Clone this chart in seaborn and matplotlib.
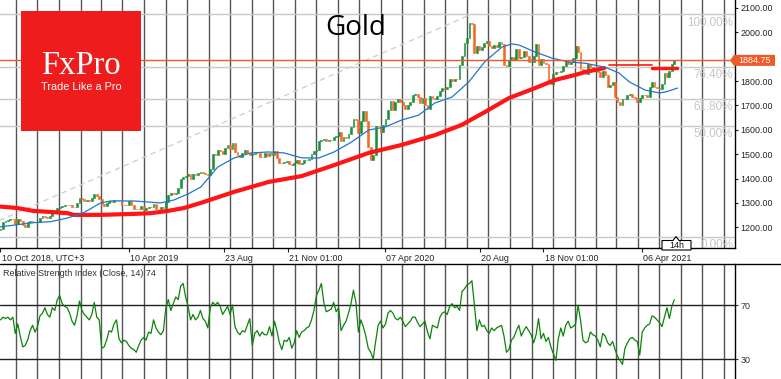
import numpy as np
import pandas as pd
import matplotlib
matplotlib.use("Agg")
import matplotlib.pyplot as plt
import matplotlib.transforms as mtrans
from matplotlib.patches import Rectangle, Polygon
from matplotlib.lines import Line2D
import seaborn as sns

sns.set_style("white")
plt.rcParams['font.family'] = ['Liberation Sans', 'DejaVu Sans']

# Gold, candles every half week (close values)
start = "2018-10-10"
first_open = 1190
close = [
    1194, 1220, 1225, 1228, 1232, 1233, 1215, 1232, 1226, 1210,
    1201, 1222, 1226, 1223, 1220, 1222, 1237, 1248, 1244, 1239,
    1245, 1257, 1267, 1281, 1284, 1287, 1292, 1290, 1292, 1282,
    1282, 1298, 1319, 1318, 1306, 1313, 1307, 1322, 1338, 1329,
    1318, 1294, 1286, 1298, 1309, 1302, 1312, 1314, 1310, 1292,
    1290, 1292, 1307, 1292, 1274, 1276, 1276, 1286, 1273, 1279,
    1284, 1285, 1297, 1276, 1274, 1284, 1279, 1305, 1332, 1340,
    1336, 1341, 1360, 1399, 1408, 1409, 1418, 1399, 1420, 1415,
    1424, 1426, 1423, 1419, 1413, 1440, 1502, 1497, 1516, 1512,
    1500, 1527, 1538, 1520, 1547, 1507, 1497, 1488, 1504, 1517,
    1504, 1498, 1499, 1505, 1505, 1490, 1488, 1504, 1492, 1505,
    1495, 1512, 1484, 1462, 1463, 1468, 1471, 1460, 1455, 1464,
    1475, 1461, 1464, 1476, 1476, 1479, 1499, 1511, 1518, 1552,
    1557, 1562, 1554, 1557, 1559, 1571, 1576, 1589, 1555, 1570,
    1566, 1584, 1611, 1643, 1641, 1586, 1637, 1675, 1635, 1528,
    1477, 1495, 1617, 1616, 1590, 1621, 1646, 1682, 1716, 1683,
    1713, 1726, 1713, 1701, 1685, 1703, 1715, 1743, 1748, 1733,
    1709, 1729, 1700, 1685, 1737, 1731, 1727, 1740, 1761, 1771,
    1769, 1774, 1809, 1800, 1810, 1808, 1866, 1902, 1956, 1975,
    2037, 2034, 1915, 1944, 1929, 1940, 1954, 1966, 1943, 1934,
    1947, 1941, 1959, 1950, 1866, 1861, 1886, 1900, 1887, 1930,
    1893, 1899, 1923, 1902, 1876, 1878, 1904, 1951, 1866, 1889,
    1873, 1870, 1806, 1788, 1830, 1839, 1838, 1840, 1863, 1881,
    1870, 1877, 1893, 1943, 1918, 1850, 1845, 1830, 1870, 1856,
    1843, 1848, 1835, 1815, 1842, 1824, 1775, 1784, 1797, 1734,
    1713, 1700, 1725, 1727, 1743, 1745, 1734, 1732, 1715, 1729,
    1742, 1744, 1736, 1777, 1794, 1777, 1773, 1769, 1786, 1831,
    1815, 1843, 1870, 1885,
]

rsi = [
    59, 61, 60, 61, 59, 61, 49, 56, 47, 39,
    40, 44, 51, 55, 50, 54, 62, 64, 68, 63,
    61, 68, 66, 74, 77, 71, 69, 68, 64, 58,
    55, 62, 73, 66, 63, 61, 59, 63, 72, 61,
    59, 38, 39, 44, 51, 50, 56, 59, 45, 42,
    44, 43, 40, 38, 37, 35, 40, 44, 46, 44,
    50, 49, 59, 53, 50, 48, 51, 68, 74, 66,
    71, 76, 74, 84, 86, 76, 69, 59, 63, 59,
    61, 66, 60, 58, 53, 68, 72, 70, 72, 69,
    63, 66, 69, 63, 70, 54, 50, 48, 51, 50,
    55, 60, 40, 49, 51, 47, 50, 48, 48, 54,
    47, 58, 51, 42, 37, 44, 43, 46, 38, 42,
    51, 46, 50, 51, 53, 54, 59, 66, 77, 81,
    86, 72, 65, 66, 67, 72, 65, 68, 51, 55,
    58, 64, 71, 81, 72, 50, 59, 54, 47, 38,
    35, 30, 43, 55, 58, 53, 56, 64, 66, 64,
    60, 59, 61, 58, 54, 56, 58, 61, 61, 57,
    54, 56, 58, 50, 45, 55, 54, 53, 61, 64,
    65, 63, 69, 71, 68, 69, 66, 80, 82, 85,
    86, 88, 70, 51, 59, 54, 55, 51, 49, 53,
    51, 53, 54, 55, 47, 35, 37, 44, 46, 51,
    55, 47, 51, 54, 51, 48, 42, 48, 60, 45,
    49, 43, 46, 39, 34, 29, 45, 53, 47, 55,
    58, 53, 54, 56, 70, 59, 44, 42, 43, 50,
    48, 47, 44, 39, 49, 47, 42, 40, 43, 37,
    32, 29, 26, 38, 42, 45, 46, 44, 43, 33,
    50, 53, 55, 56, 62, 61, 59, 57, 54, 61,
    68, 60, 69, 74,
]

# moving averages
blue_dates = ["2018-10-10", "2018-11-26", "2018-12-20", "2019-01-13", "2019-02-05",
              "2019-03-01", "2019-03-15", "2019-04-17", "2019-05-25", "2019-06-13",
              "2019-07-03", "2019-07-21", "2019-08-14", "2019-09-06", "2019-09-30",
              "2019-10-25", "2019-11-16", "2019-12-11", "2020-01-04", "2020-01-26",
              "2020-02-20", "2020-03-15", "2020-04-07", "2020-05-01", "2020-05-25",
              "2020-06-17", "2020-07-11", "2020-08-04", "2020-08-27", "2020-09-20",
              "2020-10-04", "2020-10-14", "2020-11-06", "2020-11-30", "2020-12-24",
              "2021-01-16", "2021-02-13", "2021-03-05", "2021-03-20", "2021-04-11",
              "2021-05-01", "2021-05-10", "2021-05-27"]
blue_vals = [1202, 1219, 1223, 1238, 1260, 1300, 1308, 1308, 1300, 1312,
             1337, 1365, 1447, 1484, 1505, 1509, 1505, 1485, 1484, 1509,
             1550, 1599, 1611, 1640, 1660, 1710, 1734, 1796, 1880, 1939,
             1952, 1948, 1919, 1894, 1878, 1873, 1857, 1833, 1796, 1763,
             1751, 1755, 1771]

red_dates = ["2018-10-10", "2018-11-03", "2018-11-26", "2018-12-20", "2019-01-13",
             "2019-01-22", "2019-03-01", "2019-04-17", "2019-05-11", "2019-06-04",
             "2019-06-27", "2019-07-21", "2019-09-06", "2019-10-25", "2019-12-11",
             "2020-01-26", "2020-03-15", "2020-05-01", "2020-06-17", "2020-07-25",
             "2020-08-27", "2020-09-30", "2020-11-06", "2020-12-04", "2021-01-02",
             "2021-01-16", "2021-02-12"]
red_vals = [1285, 1279, 1267, 1263, 1258, 1251, 1251, 1255, 1258, 1267,
            1279, 1300, 1345, 1386, 1410, 1455, 1505, 1538, 1578, 1620,
            1673, 1730, 1771, 1804, 1825, 1837, 1853]
red_seg_thin = ["2021-02-19", "2021-04-21", 1866]
red_seg_thick = ["2021-04-21", "2021-05-27", 1853]

# fibonacci retracement
fib_low = ["2018-08-16", 1161]
fib_high = ["2020-08-07", 2073]
fib_levels = [0.0, 0.5, 0.618, 0.764, 1.0]
fib_labels = ["0.00%", "50.00%", "61.80%", "76.40%", "100.00%"]

last_price = 1884.75
price_ticks = [1200, 1300, 1400, 1500, 1600, 1700, 1800, 2000, 2100]
date_ticks = ["2018-10-10", "2019-04-10", "2019-08-23", "2019-11-21",
              "2020-04-07", "2020-08-20", "2020-11-18", "2021-04-06"]
date_labels = ["10 Oct 2018, UTC+3", "10 Apr 2019", "23 Aug", "21 Nov 01:00",
               "07 Apr 2020", "20 Aug", "18 Nov 01:00", "06 Apr 2021"]

UP = "#17903a"
DOWN = "#f26a22"
W, H = 781, 379


def fx(px):
    return px / W


def fy(py):
    return 1 - py / H


fig = plt.figure(figsize=(W / 100, H / 100), dpi=100)
fig.patch.set_facecolor("white")
ax = fig.add_axes([0, fy(248), 735 / W, 248 / H])
ax2 = fig.add_axes([0, 0, 735 / W, (H - 264) / H])

x0 = pd.Timestamp("2018-10-10") - pd.Timedelta(days=0.7)
x1 = x0 + pd.Timedelta(days=735 / 0.7052)
months = pd.date_range("2018-11-01", "2021-08-01", freq="MS")

# price panel
dates = pd.date_range(start, periods=len(close), freq="84h")
opens = [first_open] + close[:-1]
cl = np.array(close, dtype=float)
op = np.array(opens, dtype=float)
colors = [UP if c >= o else DOWN for c, o in zip(cl, op)]

for m in months:
    ax.axvline(m, color="#555555", lw=1, zorder=0)

for lvl in fib_levels:
    p = fib_low[1] + lvl * (fib_high[1] - fib_low[1])
    ax.axhline(p, color="#c9c9c9", lw=1, zorder=0.5)

ax.plot(pd.to_datetime([fib_low[0], fib_high[0]]), [fib_low[1], fib_high[1]],
        color="#d0d0d0", lw=1, dashes=(4, 3), zorder=0.6)

ax.bar(dates, cl - op, bottom=op, width=2.6, color=colors, edgecolor=colors,
       linewidth=0.4, zorder=2)

sns.lineplot(x=pd.to_datetime(red_dates), y=red_vals, ax=ax, color="#ff1515", lw=3, zorder=3)
ax.plot(pd.to_datetime(red_seg_thin[:2]), [red_seg_thin[2]] * 2, color="#ff1515", lw=1.2, zorder=3)
ax.plot(pd.to_datetime(red_seg_thick[:2]), [red_seg_thick[2]] * 2, color="#ff1515", lw=2.5, zorder=3)
sns.lineplot(x=pd.to_datetime(blue_dates), y=blue_vals, ax=ax, color="#1f78c8", lw=0.9, zorder=4)

ax.axhline(last_price, color="#f05a28", lw=1, zorder=5)

ax.set_xlim(x0, x1)
ax.set_ylim(1115.1, 2132.3)
ax.set_xlabel("")
ax.set_ylabel("")

for s in ["top", "left"]:
    ax.spines[s].set_visible(False)
for s in ["right", "bottom"]:
    ax.spines[s].set_color("black")
    ax.spines[s].set_linewidth(1)

ax.yaxis.tick_right()
ax.set_yticks(price_ticks)
ax.set_yticklabels([f"{p:.2f}" for p in price_ticks])
ax.tick_params(axis="y", direction="out", length=2.5, width=0.8, labelsize=6.4,
               pad=1.5, colors="#222222", right=True, left=False)
ax.set_xticks(pd.to_datetime(date_ticks))
ax.set_xticklabels(date_labels, ha="left")
ax.tick_params(axis="x", direction="out", length=3, width=0.8, labelsize=6.4,
               pad=1.2, colors="#222222", bottom=True)
shift = mtrans.ScaledTranslation(1.0 / 72, 0, fig.dpi_scale_trans)
for lab in ax.get_xticklabels():
    lab.set_transform(lab.get_transform() + shift)

for lvl, lab in zip(fib_levels, fib_labels):
    p = fib_low[1] + lvl * (fib_high[1] - fib_low[1])
    ax.annotate(lab, xy=(1, p), xycoords=("axes fraction", "data"),
                xytext=(-1.5, -1.5), textcoords="offset points",
                ha="right", va="top", fontsize=8.4, color="#c6c6c6", zorder=6)

# rsi panel
rsi_dates = pd.date_range(start, periods=len(rsi), freq="84h")
for m in months:
    ax2.axvline(m, color="#555555", lw=1, zorder=0)
ax2.axhline(70, color="#222222", lw=1, zorder=1)
ax2.axhline(30, color="#222222", lw=1, zorder=1)
sns.lineplot(x=rsi_dates, y=rsi, ax=ax2, color="#0a840a", lw=0.9, zorder=3)
ax2.set_xlim(x0, x1)
ax2.set_ylim(15.2, 100.4)
ax2.set_xlabel("")
ax2.set_ylabel("")
ax2.set_xticks([])
for s in ["top", "left", "bottom"]:
    ax2.spines[s].set_visible(False)
ax2.spines["right"].set_color("black")
ax2.spines["right"].set_linewidth(1)
ax2.yaxis.tick_right()
ax2.set_yticks([30, 70])
ax2.tick_params(axis="y", direction="out", length=2.5, width=0.8, labelsize=6.4,
                pad=1.5, colors="#333333", right=True, left=False)
ax2.text(0.004, 0.915, "Relative Strength Index (Close, 14) 74", transform=ax2.transAxes,
         fontsize=6.5, color="#333333", ha="left", va="center", zorder=5)

fig.add_artist(Line2D([0, 1], [fy(264), fy(264)], color="black", lw=1, transform=fig.transFigure))

# price tag on the right
ymin, ymax = ax.get_ylim()
tag_y = 248 - (last_price - ymin) / (ymax - ymin) * 248
tag = Polygon([(fx(730), fy(tag_y)), (fx(734), fy(tag_y - 5.5)), (fx(775), fy(tag_y - 5.5)),
               (fx(775), fy(tag_y + 5.5)), (fx(734), fy(tag_y + 5.5))],
              closed=True, transform=fig.transFigure, fc="#f05a28", ec="none", zorder=10)
fig.add_artist(tag)
fig.text(fx(755), fy(tag_y), f"{last_price:.2f}", color="white", fontsize=6.4,
         ha="center", va="center", zorder=11)

# timeframe box
box = Polygon([(fx(662), fy(250)), (fx(662), fy(240.5)), (fx(673), fy(240.5)), (fx(676), fy(236.5)),
               (fx(679), fy(240.5)), (fx(691), fy(240.5)), (fx(691), fy(250))],
              closed=True, transform=fig.transFigure, fc="white", ec="black", lw=0.8, zorder=10)
fig.add_artist(box)
fig.text(fx(676.5), fy(245.3), "14h", fontsize=6.4, color="#111111", ha="center", va="center", zorder=11)

# logo and title
fig.add_artist(Rectangle((fx(21), fy(131)), 120 / W, 120 / H, transform=fig.transFigure,
                         fc="#ee1c1c", ec="none", zorder=10))
fig.text(fx(81), fy(73.5), "FxPro", family=["Liberation Serif", "DejaVu Serif"], fontsize=23.5,
         color="white", ha="center", va="baseline", zorder=11)
fig.text(fx(81), fy(89.5), "Trade Like a Pro", fontsize=7.8, color="white",
         ha="center", va="baseline", zorder=11)
fig.text(fx(325), fy(35), "Gold", family=["Open Sans", "DejaVu Sans"], fontsize=20,
         color="black", ha="left", va="baseline", zorder=11)

fig.savefig("out.png", dpi=100)
